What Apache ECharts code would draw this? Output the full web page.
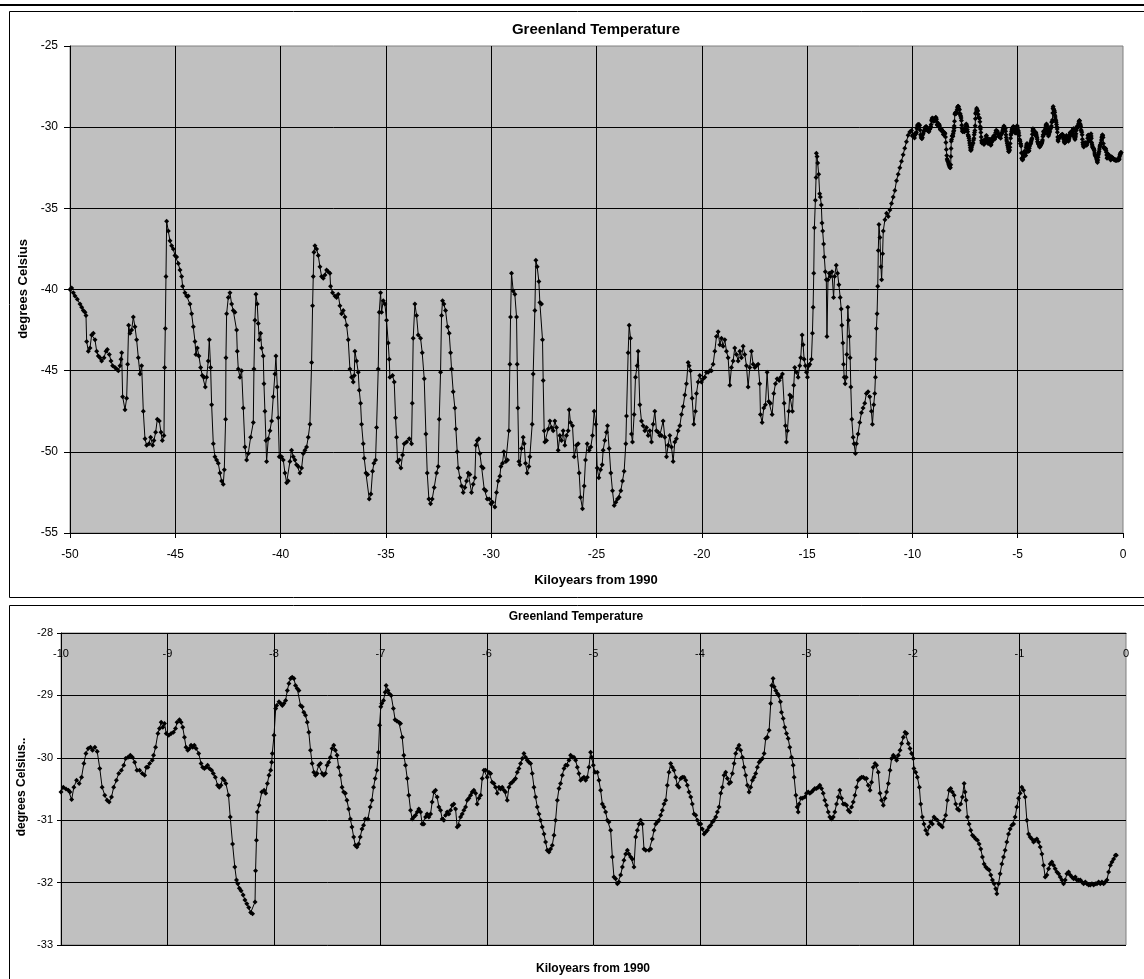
<!DOCTYPE html>
<html>
<head>
<meta charset="utf-8">
<script src="https://cdn.jsdelivr.net/npm/echarts@6/dist/echarts.min.js"></script>
<style>
html,body{margin:0;padding:0;background:#fff;}
#chart{width:1144px;height:979px;}
</style>
</head>
<body>
<div id="chart"></div>
<script>
// ---- Data (kiloyears from 1990, degrees Celsius) ----
const chartTitle = 'Greenland Temperature';
const xTitle = 'Kiloyears from 1990';
const yTitleTop = 'degrees Celsius';
const yTitleBottom = 'degrees Celsius..';

// Glacial record, -50 to -10 kyr
const glacialRecord = [
[-50.000,-40.0],[-49.921,-39.9],[-49.842,-40.2],[-49.763,-40.4],[-49.652,-40.6],[-49.525,-40.9],[-49.446,-41.1],[-49.367,-41.3],[-49.288,-41.4],[-49.241,-41.6],
[-49.209,-43.2],[-49.130,-43.8],[-49.051,-43.6],[-48.972,-42.8],[-48.892,-42.7],[-48.813,-43.1],[-48.734,-43.8],[-48.655,-44.1],[-48.576,-44.2],[-48.497,-44.4],
[-48.386,-44.2],[-48.291,-43.8],[-48.228,-43.7],[-48.133,-44.0],[-48.054,-44.4],[-47.975,-44.7],[-47.864,-44.8],[-47.785,-44.9],[-47.706,-45.0],[-47.627,-44.7],
[-47.579,-44.3],[-47.547,-43.9],[-47.500,-46.6],[-47.389,-47.4],[-47.310,-46.7],[-47.263,-44.6],[-47.215,-42.2],[-47.152,-42.7],[-47.073,-42.5],[-46.994,-41.7],
[-46.915,-42.3],[-46.835,-43.1],[-46.756,-44.2],[-46.677,-45.2],[-46.598,-44.7],[-46.519,-47.5],[-46.440,-49.2],[-46.361,-49.6],[-46.250,-49.5],[-46.171,-49.1],
[-46.076,-49.6],[-46.013,-49.3],[-45.934,-48.8],[-45.854,-48.0],[-45.759,-48.1],[-45.680,-48.8],[-45.617,-49.3],[-45.538,-49.0],[-45.506,-44.8],[-45.475,-42.4],
[-45.443,-39.2],[-45.411,-35.8],[-45.332,-36.4],[-45.253,-37.0],[-45.174,-37.3],[-45.095,-37.5],[-45.016,-37.9],[-44.937,-38.0],[-44.858,-38.4],[-44.778,-38.8],
[-44.699,-39.2],[-44.652,-39.8],[-44.541,-40.2],[-44.462,-40.4],[-44.383,-40.4],[-44.304,-40.9],[-44.225,-41.5],[-44.146,-42.3],[-44.066,-43.2],[-44.019,-44.0],
[-43.956,-43.6],[-43.877,-44.1],[-43.797,-44.8],[-43.718,-45.3],[-43.639,-45.4],[-43.576,-46.0],[-43.513,-45.4],[-43.434,-44.4],[-43.386,-43.1],[-43.323,-44.8],
[-43.275,-47.1],[-43.196,-49.5],[-43.117,-50.3],[-43.038,-50.5],[-42.959,-50.7],[-42.880,-51.3],[-42.801,-51.8],[-42.722,-52.0],[-42.674,-51.1],[-42.611,-48.0],
[-42.595,-44.2],[-42.563,-41.5],[-42.484,-40.5],[-42.405,-40.2],[-42.326,-40.9],[-42.247,-41.3],[-42.168,-41.4],[-42.089,-42.5],[-42.057,-43.8],[-42.009,-44.9],
[-41.930,-45.4],[-41.851,-45.0],[-41.772,-47.3],[-41.693,-49.7],[-41.614,-50.5],[-41.535,-50.1],[-41.424,-49.1],[-41.297,-48.2],[-41.266,-44.9],[-41.218,-41.9],
[-41.171,-40.3],[-41.108,-40.9],[-41.060,-42.1],[-41.013,-43.1],[-40.949,-42.7],[-40.902,-43.6],[-40.823,-44.1],[-40.791,-45.8],[-40.744,-47.5],[-40.696,-49.3],
[-40.665,-50.6],[-40.585,-49.2],[-40.506,-48.7],[-40.427,-48.1],[-40.348,-46.6],[-40.269,-45.2],[-40.222,-44.1],[-40.158,-46.0],[-40.111,-47.9],[-40.063,-50.3],
[-39.953,-50.3],[-39.873,-50.5],[-39.794,-51.3],[-39.715,-51.9],[-39.636,-51.8],[-39.557,-50.6],[-39.478,-49.9],[-39.399,-50.3],[-39.320,-50.5],[-39.241,-50.8],
[-39.161,-50.9],[-39.082,-51.3],[-39.003,-51.0],[-38.924,-50.1],[-38.845,-49.9],[-38.766,-49.7],[-38.687,-49.1],[-38.608,-48.3],[-38.528,-44.5],[-38.481,-41.0],
[-38.449,-39.2],[-38.418,-37.7],[-38.370,-37.3],[-38.291,-37.5],[-38.212,-37.9],[-38.133,-38.6],[-38.054,-39.2],[-37.975,-39.3],[-37.896,-39.1],[-37.816,-38.8],
[-37.737,-38.9],[-37.658,-39.0],[-37.627,-39.8],[-37.532,-40.2],[-37.421,-40.4],[-37.342,-40.5],[-37.263,-40.3],[-37.184,-41.0],[-37.104,-41.5],[-37.025,-41.3],
[-36.946,-41.7],[-36.867,-42.2],[-36.788,-43.1],[-36.709,-44.9],[-36.630,-45.4],[-36.551,-45.7],[-36.503,-45.3],[-36.472,-43.8],[-36.392,-44.4],[-36.313,-45.1],
[-36.266,-46.2],[-36.203,-47.0],[-36.155,-48.3],[-36.076,-49.5],[-36.028,-50.4],[-35.949,-51.3],[-35.870,-51.4],[-35.791,-52.9],[-35.712,-52.6],[-35.633,-51.2],
[-35.570,-50.7],[-35.491,-50.5],[-35.443,-48.5],[-35.364,-44.9],[-35.316,-41.4],[-35.253,-40.2],[-35.206,-41.4],[-35.127,-40.7],[-35.047,-40.9],[-34.968,-41.9],
[-34.889,-43.3],[-34.842,-44.3],[-34.810,-45.4],[-34.684,-45.3],[-34.604,-45.7],[-34.541,-47.9],[-34.494,-49.1],[-34.446,-50.6],[-34.367,-50.5],[-34.288,-51.0],
[-34.209,-50.2],[-34.130,-49.5],[-34.019,-49.4],[-33.892,-49.2],[-33.782,-49.5],[-33.750,-47.0],[-33.703,-43.0],[-33.623,-40.9],[-33.544,-41.6],[-33.465,-42.8],
[-33.354,-43.0],[-33.275,-43.9],[-33.180,-45.5],[-33.101,-48.9],[-33.038,-51.3],[-32.959,-52.9],[-32.880,-53.2],[-32.801,-52.9],[-32.706,-52.2],[-32.595,-51.3],
[-32.516,-50.9],[-32.468,-48.0],[-32.405,-45.1],[-32.358,-41.6],[-32.310,-40.7],[-32.247,-40.9],[-32.168,-41.3],[-32.073,-42.3],[-31.994,-42.7],[-31.930,-43.9],
[-31.883,-44.9],[-31.804,-46.3],[-31.725,-47.3],[-31.677,-48.6],[-31.614,-50.0],[-31.566,-51.0],[-31.487,-51.6],[-31.408,-52.1],[-31.329,-52.5],[-31.250,-52.2],
[-31.171,-51.8],[-31.092,-51.3],[-31.013,-51.4],[-30.934,-52.5],[-30.854,-52.0],[-30.775,-51.6],[-30.728,-49.6],[-30.665,-49.3],[-30.585,-49.2],[-30.538,-50.1],
[-30.459,-50.9],[-30.380,-51.0],[-30.332,-52.3],[-30.253,-52.4],[-30.190,-52.9],[-30.095,-52.9],[-30.016,-53.2],[-29.937,-53.1],[-29.826,-53.4],[-29.747,-52.5],
[-29.668,-51.8],[-29.589,-51.5],[-29.541,-50.9],[-29.462,-50.7],[-29.399,-50.0],[-29.304,-50.6],[-29.225,-50.5],[-29.162,-48.7],[-29.114,-44.6],[-29.082,-41.7],
[-29.035,-39.0],[-28.956,-40.1],[-28.877,-40.3],[-28.797,-41.7],[-28.766,-44.6],[-28.734,-47.3],[-28.687,-50.6],[-28.639,-50.8],[-28.560,-49.8],[-28.481,-49.1],
[-28.434,-49.5],[-28.370,-50.7],[-28.291,-51.3],[-28.212,-50.9],[-28.165,-50.3],[-28.054,-48.3],[-28.006,-45.2],[-27.927,-41.3],[-27.880,-38.2],[-27.816,-38.6],
[-27.737,-39.5],[-27.690,-40.8],[-27.611,-40.9],[-27.563,-43.1],[-27.532,-45.6],[-27.484,-48.7],[-27.453,-49.4],[-27.373,-49.3],[-27.294,-48.6],[-27.215,-48.1],
[-27.136,-48.5],[-27.057,-48.7],[-26.978,-48.1],[-26.899,-48.5],[-26.820,-49.9],[-26.741,-49.0],[-26.661,-49.3],[-26.582,-48.7],[-26.503,-49.6],[-26.424,-49.0],
[-26.345,-48.7],[-26.297,-47.4],[-26.234,-48.2],[-26.139,-48.4],[-26.060,-50.3],[-25.949,-49.6],[-25.870,-49.5],[-25.823,-51.3],[-25.759,-52.8],[-25.665,-53.5],
[-25.585,-52.1],[-25.522,-50.5],[-25.443,-49.5],[-25.348,-49.9],[-25.269,-49.7],[-25.190,-49.0],[-25.111,-47.5],[-25.032,-48.3],[-24.968,-51.0],[-24.889,-51.6],
[-24.810,-51.1],[-24.731,-50.8],[-24.684,-49.9],[-24.604,-49.3],[-24.525,-48.8],[-24.478,-48.4],[-24.399,-49.8],[-24.320,-51.3],[-24.241,-52.4],[-24.161,-53.3],
[-24.082,-53.1],[-24.003,-52.9],[-23.924,-52.8],[-23.845,-52.4],[-23.766,-51.8],[-23.687,-51.2],[-23.608,-49.5],[-23.576,-47.8],[-23.497,-43.9],[-23.449,-42.2],
[-23.386,-43.0],[-23.339,-48.9],[-23.291,-49.4],[-23.212,-47.7],[-23.149,-45.4],[-23.070,-44.7],[-23.022,-43.8],[-22.943,-47.1],[-22.864,-48.1],[-22.785,-48.4],
[-22.706,-48.7],[-22.627,-48.5],[-22.547,-49.0],[-22.468,-48.7],[-22.389,-49.4],[-22.310,-48.3],[-22.231,-47.5],[-22.152,-48.7],[-22.073,-48.8],[-21.994,-49.0],
[-21.915,-49.0],[-21.835,-48.1],[-21.756,-49.1],[-21.677,-50.3],[-21.598,-49.6],[-21.519,-49.0],[-21.440,-49.7],[-21.361,-50.6],[-21.282,-49.4],[-21.203,-49.2],
[-21.123,-48.7],[-21.044,-48.4],[-20.965,-47.7],[-20.886,-47.2],[-20.807,-46.5],[-20.728,-45.8],[-20.649,-44.5],[-20.601,-44.7],[-20.538,-45.0],[-20.459,-46.7],
[-20.380,-48.3],[-20.301,-47.5],[-20.253,-46.4],[-20.174,-45.7],[-20.095,-45.3],[-20.016,-45.7],[-19.937,-45.5],[-19.858,-45.4],[-19.778,-45.1],[-19.699,-45.1],
[-19.620,-45.0],[-19.541,-45.0],[-19.462,-44.6],[-19.383,-43.8],[-19.304,-42.9],[-19.225,-42.6],[-19.146,-43.4],[-19.066,-43.0],[-18.987,-43.5],[-18.908,-43.1],
[-18.829,-43.8],[-18.750,-44.2],[-18.671,-45.9],[-18.592,-44.8],[-18.513,-44.4],[-18.434,-43.6],[-18.354,-44.0],[-18.275,-44.4],[-18.196,-43.8],[-18.117,-44.2],
[-18.038,-43.5],[-17.959,-44.0],[-17.880,-44.7],[-17.801,-46.0],[-17.722,-44.8],[-17.642,-43.8],[-17.563,-44.6],[-17.484,-44.8],[-17.405,-44.7],[-17.326,-44.6],
[-17.247,-45.8],[-17.215,-47.7],[-17.136,-48.2],[-17.057,-47.3],[-16.978,-47.1],[-16.899,-45.1],[-16.820,-46.9],[-16.741,-47.0],[-16.661,-47.7],[-16.582,-46.4],
[-16.503,-45.8],[-16.424,-45.5],[-16.329,-45.6],[-16.250,-45.4],[-16.171,-45.2],[-16.092,-47.0],[-16.028,-48.4],[-15.981,-49.4],[-15.934,-48.7],[-15.870,-47.5],
[-15.823,-46.5],[-15.744,-46.6],[-15.696,-47.5],[-15.633,-45.9],[-15.585,-44.8],[-15.506,-45.1],[-15.427,-45.4],[-15.348,-44.7],[-15.301,-44.2],[-15.237,-42.8],
[-15.190,-43.4],[-15.142,-44.3],[-15.079,-44.7],[-15.032,-45.1],[-14.984,-45.4],[-14.921,-44.7],[-14.873,-44.6],[-14.794,-44.3],[-14.747,-42.7],[-14.715,-41.1],
[-14.684,-39.0],[-14.654,-36.2],[-14.607,-34.5],[-14.575,-33.1],[-14.560,-31.6],[-14.528,-31.8],[-14.497,-32.2],[-14.450,-32.9],[-14.403,-34.1],[-14.371,-34.3],
[-14.324,-34.8],[-14.292,-35.9],[-14.261,-36.4],[-14.214,-37.2],[-14.182,-38.0],[-14.135,-38.9],[-14.088,-39.4],[-14.057,-42.9],[-14.009,-39.4],[-13.947,-39.0],
[-13.899,-39.2],[-13.821,-38.9],[-13.742,-40.5],[-13.695,-39.2],[-13.616,-38.5],[-13.553,-39.0],[-13.491,-39.7],[-13.428,-40.5],[-13.381,-41.2],[-13.349,-42.2],
[-13.302,-43.3],[-13.270,-44.6],[-13.239,-45.4],[-13.192,-45.8],[-13.145,-45.4],[-13.113,-44.0],[-13.066,-41.1],[-13.035,-41.9],[-12.987,-42.9],[-12.956,-44.2],
[-12.925,-46.0],[-12.877,-48.0],[-12.816,-49.1],[-12.769,-49.5],[-12.706,-50.1],[-12.658,-49.5],[-12.579,-48.9],[-12.500,-48.2],[-12.421,-47.6],[-12.342,-47.3],
[-12.263,-47.0],[-12.184,-46.4],[-12.104,-46.3],[-12.025,-46.6],[-11.946,-47.5],[-11.899,-48.3],[-11.835,-47.1],[-11.788,-46.4],[-11.756,-45.4],[-11.741,-44.3],
[-11.709,-42.4],[-11.677,-41.5],[-11.645,-39.8],[-11.620,-37.6],[-11.588,-36.0],[-11.541,-36.8],[-11.494,-38.6],[-11.462,-39.4],[-11.415,-37.8],[-11.384,-36.4],
[-11.305,-35.7],[-11.226,-35.3],[-11.148,-35.5],[-11.069,-35.1],[-10.991,-34.7],[-10.912,-34.3],[-10.833,-33.9],[-10.755,-33.3],[-10.676,-32.9],[-10.597,-32.5],
[-10.519,-32.1],[-10.440,-31.7],[-10.362,-31.3],[-10.283,-30.9],[-10.204,-30.5],[-10.126,-30.3],[-10.047,-30.2]
];

// Holocene record, -10 to 0 kyr (shown in both panels)
const holoceneRecord = [
[-10.000,-30.55],[-9.978,-30.47],[-9.953,-30.50],[-9.931,-30.52],[-9.916,-30.55],[-9.900,-30.67],[-9.879,-30.47],[-9.854,-30.36],[-9.829,-30.41],[-9.807,-30.31],
[-9.785,-30.09],[-9.766,-29.93],[-9.745,-29.85],[-9.723,-29.83],[-9.704,-29.88],[-9.682,-29.83],[-9.660,-29.90],[-9.636,-30.17],[-9.614,-30.47],[-9.589,-30.60],
[-9.567,-30.68],[-9.548,-30.71],[-9.526,-30.63],[-9.505,-30.47],[-9.480,-30.36],[-9.458,-30.25],[-9.433,-30.20],[-9.411,-30.12],[-9.393,-30.01],[-9.371,-29.99],
[-9.349,-29.96],[-9.330,-29.99],[-9.308,-30.07],[-9.287,-30.20],[-9.262,-30.20],[-9.237,-30.25],[-9.215,-30.28],[-9.199,-30.15],[-9.184,-30.15],[-9.168,-30.09],
[-9.143,-30.04],[-9.131,-29.96],[-9.112,-29.83],[-9.090,-29.61],[-9.075,-29.53],[-9.059,-29.43],[-9.044,-29.51],[-9.028,-29.45],[-9.012,-29.61],[-8.988,-29.64],
[-8.966,-29.61],[-8.944,-29.59],[-8.925,-29.53],[-8.910,-29.43],[-8.888,-29.39],[-8.872,-29.43],[-8.857,-29.51],[-8.841,-29.67],[-8.826,-29.83],[-8.810,-29.88],
[-8.794,-29.85],[-8.779,-29.80],[-8.763,-29.83],[-8.748,-29.80],[-8.732,-29.85],[-8.707,-29.93],[-8.685,-30.09],[-8.670,-30.15],[-8.654,-30.17],[-8.639,-30.15],
[-8.623,-30.12],[-8.607,-30.17],[-8.586,-30.20],[-8.570,-30.25],[-8.551,-30.31],[-8.530,-30.44],[-8.514,-30.47],[-8.498,-30.44],[-8.483,-30.33],[-8.467,-30.36],
[-8.452,-30.41],[-8.427,-30.60],[-8.411,-30.95],[-8.389,-31.38],[-8.368,-31.75],[-8.352,-31.96],[-8.340,-32.02],[-8.325,-32.09],[-8.309,-32.13],[-8.290,-32.20],
[-8.273,-32.28],[-8.255,-32.34],[-8.237,-32.40],[-8.219,-32.48],[-8.201,-32.50],[-8.178,-32.31],[-8.173,-31.81],[-8.165,-31.32],[-8.156,-30.87],[-8.140,-30.76],
[-8.115,-30.55],[-8.093,-30.52],[-8.078,-30.57],[-8.062,-30.41],[-8.047,-30.28],[-8.031,-30.20],[-8.022,-30.07],[-8.016,-29.93],[-8.000,-29.64],[-7.984,-29.21],
[-7.975,-29.16],[-7.953,-29.10],[-7.938,-29.13],[-7.922,-29.16],[-7.907,-29.13],[-7.891,-29.08],[-7.875,-28.92],[-7.860,-28.81],[-7.844,-28.73],[-7.829,-28.71],
[-7.813,-28.73],[-7.798,-28.84],[-7.782,-28.89],[-7.766,-28.92],[-7.751,-29.16],[-7.735,-29.18],[-7.720,-29.27],[-7.704,-29.32],[-7.688,-29.43],[-7.673,-29.59],
[-7.657,-29.88],[-7.642,-30.09],[-7.626,-30.23],[-7.611,-30.28],[-7.595,-30.25],[-7.579,-30.12],[-7.564,-30.09],[-7.548,-30.25],[-7.533,-30.28],[-7.517,-30.25],
[-7.502,-30.12],[-7.486,-30.07],[-7.470,-29.99],[-7.455,-29.85],[-7.439,-29.80],[-7.424,-29.88],[-7.408,-29.96],[-7.393,-30.15],[-7.377,-30.28],[-7.361,-30.47],
[-7.346,-30.55],[-7.330,-30.57],[-7.315,-30.68],[-7.299,-30.82],[-7.283,-30.98],[-7.268,-31.11],[-7.252,-31.27],[-7.237,-31.40],[-7.221,-31.43],[-7.206,-31.38],
[-7.190,-31.27],[-7.174,-31.14],[-7.159,-31.08],[-7.143,-30.98],[-7.118,-30.98],[-7.097,-30.79],[-7.081,-30.68],[-7.065,-30.47],[-7.050,-30.33],[-7.034,-30.20],
[-7.019,-29.91],[-7.009,-29.48],[-6.997,-29.18],[-6.988,-29.13],[-6.972,-29.08],[-6.956,-28.95],[-6.947,-28.84],[-6.931,-28.92],[-6.919,-28.97],[-6.900,-29.00],
[-6.879,-29.21],[-6.863,-29.39],[-6.847,-29.41],[-6.828,-29.43],[-6.812,-29.45],[-6.796,-29.67],[-6.781,-29.96],[-6.765,-30.12],[-6.749,-30.33],[-6.734,-30.60],
[-6.718,-30.84],[-6.702,-30.98],[-6.687,-30.95],[-6.671,-30.92],[-6.655,-30.87],[-6.640,-30.82],[-6.624,-30.87],[-6.609,-31.06],[-6.593,-31.06],[-6.577,-30.95],
[-6.562,-30.90],[-6.546,-30.95],[-6.530,-30.90],[-6.515,-30.71],[-6.499,-30.55],[-6.483,-30.52],[-6.468,-30.63],[-6.452,-30.79],[-6.436,-30.84],[-6.421,-30.98],
[-6.405,-31.00],[-6.389,-30.92],[-6.374,-30.87],[-6.358,-30.90],[-6.342,-30.84],[-6.327,-30.76],[-6.311,-30.74],[-6.295,-30.82],[-6.280,-31.11],[-6.264,-31.08],
[-6.248,-30.95],[-6.233,-30.90],[-6.217,-30.84],[-6.201,-30.79],[-6.186,-30.68],[-6.170,-30.65],[-6.154,-30.60],[-6.139,-30.55],[-6.123,-30.52],[-6.107,-30.57],
[-6.092,-30.74],[-6.076,-30.65],[-6.060,-30.60],[-6.045,-30.33],[-6.029,-30.20],[-6.013,-30.20],[-5.998,-30.31],[-5.982,-30.23],[-5.966,-30.25],[-5.951,-30.39],
[-5.935,-30.41],[-5.920,-30.47],[-5.904,-30.57],[-5.888,-30.47],[-5.873,-30.50],[-5.857,-30.47],[-5.841,-30.52],[-5.826,-30.55],[-5.810,-30.68],[-5.794,-30.47],
[-5.779,-30.41],[-5.763,-30.39],[-5.747,-30.36],[-5.732,-30.33],[-5.716,-30.23],[-5.700,-30.17],[-5.685,-30.09],[-5.669,-30.01],[-5.653,-29.93],[-5.638,-29.99],
[-5.622,-30.04],[-5.606,-30.07],[-5.591,-30.09],[-5.575,-30.25],[-5.559,-30.47],[-5.544,-30.63],[-5.528,-30.79],[-5.512,-30.90],[-5.497,-31.00],[-5.481,-31.11],
[-5.465,-31.22],[-5.450,-31.35],[-5.434,-31.48],[-5.418,-31.51],[-5.403,-31.46],[-5.387,-31.40],[-5.371,-31.24],[-5.356,-31.00],[-5.340,-30.68],[-5.324,-30.49],
[-5.309,-30.41],[-5.293,-30.28],[-5.277,-30.17],[-5.262,-30.12],[-5.246,-30.12],[-5.230,-30.04],[-5.215,-29.96],[-5.199,-29.99],[-5.184,-29.99],[-5.168,-30.04],
[-5.152,-30.15],[-5.137,-30.25],[-5.121,-30.36],[-5.105,-30.33],[-5.090,-30.31],[-5.074,-30.36],[-5.058,-30.31],[-5.043,-30.15],[-5.027,-29.91],[-5.017,-29.99],
[-5.002,-30.12],[-4.986,-30.23],[-4.964,-30.23],[-4.949,-30.36],[-4.933,-30.52],[-4.917,-30.74],[-4.902,-30.79],[-4.886,-30.87],[-4.870,-31.00],[-4.855,-31.03],
[-4.839,-31.16],[-4.823,-31.59],[-4.808,-31.91],[-4.792,-31.94],[-4.776,-32.02],[-4.761,-31.99],[-4.745,-31.88],[-4.729,-31.75],[-4.714,-31.64],[-4.698,-31.54],
[-4.682,-31.48],[-4.667,-31.54],[-4.651,-31.59],[-4.635,-31.62],[-4.620,-31.75],[-4.604,-31.27],[-4.588,-31.16],[-4.573,-31.06],[-4.557,-31.00],[-4.541,-31.06],
[-4.526,-31.46],[-4.510,-31.48],[-4.479,-31.48],[-4.463,-31.46],[-4.448,-31.30],[-4.432,-31.16],[-4.416,-31.06],[-4.401,-31.03],[-4.385,-31.00],[-4.369,-30.92],
[-4.354,-30.84],[-4.338,-30.74],[-4.322,-30.68],[-4.307,-30.44],[-4.291,-30.23],[-4.275,-30.09],[-4.260,-30.15],[-4.244,-30.20],[-4.228,-30.31],[-4.213,-30.44],
[-4.197,-30.47],[-4.181,-30.33],[-4.166,-30.31],[-4.150,-30.31],[-4.134,-30.36],[-4.119,-30.44],[-4.103,-30.55],[-4.087,-30.63],[-4.072,-30.74],[-4.056,-30.90],
[-4.040,-30.92],[-4.025,-31.00],[-4.009,-31.06],[-3.993,-31.06],[-3.978,-31.14],[-3.962,-31.22],[-3.946,-31.19],[-3.931,-31.16],[-3.915,-31.11],[-3.899,-31.08],
[-3.884,-31.03],[-3.868,-31.00],[-3.852,-30.95],[-3.837,-30.87],[-3.821,-30.79],[-3.805,-30.57],[-3.790,-30.47],[-3.774,-30.28],[-3.759,-30.23],[-3.743,-30.33],
[-3.727,-30.41],[-3.712,-30.39],[-3.696,-30.25],[-3.680,-30.09],[-3.665,-29.93],[-3.649,-29.85],[-3.633,-29.80],[-3.618,-29.88],[-3.602,-29.99],[-3.586,-30.15],
[-3.571,-30.28],[-3.555,-30.44],[-3.539,-30.55],[-3.524,-30.47],[-3.508,-30.36],[-3.492,-30.31],[-3.477,-30.25],[-3.461,-30.15],[-3.445,-30.07],[-3.430,-30.04],
[-3.414,-30.01],[-3.398,-29.93],[-3.383,-29.69],[-3.367,-29.67],[-3.351,-29.56],[-3.336,-29.13],[-3.326,-28.84],[-3.314,-28.73],[-3.304,-28.86],[-3.289,-28.92],
[-3.273,-28.97],[-3.260,-29.00],[-3.245,-29.10],[-3.235,-29.27],[-3.219,-29.37],[-3.204,-29.51],[-3.188,-29.61],[-3.172,-29.69],[-3.157,-29.83],[-3.141,-29.99],
[-3.125,-30.12],[-3.116,-30.31],[-3.100,-30.60],[-3.088,-30.79],[-3.078,-30.87],[-3.069,-30.74],[-3.053,-30.65],[-3.038,-30.65],[-3.016,-30.63],[-3.000,-30.57],
[-2.984,-30.55],[-2.969,-30.57],[-2.953,-30.55],[-2.937,-30.52],[-2.922,-30.49],[-2.906,-30.49],[-2.890,-30.47],[-2.875,-30.44],[-2.859,-30.49],[-2.843,-30.57],
[-2.828,-30.68],[-2.812,-30.76],[-2.796,-30.87],[-2.781,-30.95],[-2.765,-30.98],[-2.749,-30.95],[-2.734,-30.87],[-2.718,-30.74],[-2.702,-30.63],[-2.687,-30.52],
[-2.671,-30.65],[-2.655,-30.74],[-2.639,-30.74],[-2.624,-30.76],[-2.608,-30.84],[-2.592,-30.87],[-2.577,-30.79],[-2.561,-30.71],[-2.545,-30.60],[-2.530,-30.47],
[-2.514,-30.36],[-2.498,-30.33],[-2.483,-30.31],[-2.467,-30.31],[-2.451,-30.33],[-2.436,-30.33],[-2.420,-30.44],[-2.404,-30.52],[-2.389,-30.39],[-2.373,-30.15],
[-2.357,-30.09],[-2.342,-30.12],[-2.326,-30.23],[-2.310,-30.57],[-2.295,-30.68],[-2.279,-30.76],[-2.263,-30.65],[-2.248,-30.55],[-2.232,-30.41],[-2.216,-30.20],
[-2.201,-30.01],[-2.185,-29.96],[-2.169,-29.99],[-2.154,-30.04],[-2.138,-29.96],[-2.122,-29.88],[-2.107,-29.77],[-2.091,-29.67],[-2.075,-29.59],[-2.060,-29.61],
[-2.044,-29.77],[-2.028,-29.85],[-2.013,-29.93],[-1.997,-30.01],[-1.991,-30.17],[-1.975,-30.23],[-1.959,-30.31],[-1.940,-30.47],[-1.928,-30.74],[-1.912,-30.95],
[-1.897,-31.06],[-1.881,-31.16],[-1.865,-31.22],[-1.850,-31.11],[-1.834,-31.03],[-1.818,-31.06],[-1.803,-30.95],[-1.787,-30.98],[-1.771,-31.00],[-1.755,-31.06],
[-1.740,-31.08],[-1.724,-31.11],[-1.708,-31.00],[-1.693,-30.92],[-1.677,-30.68],[-1.661,-30.52],[-1.646,-30.49],[-1.630,-30.55],[-1.614,-30.60],[-1.599,-30.74],
[-1.583,-30.82],[-1.567,-30.84],[-1.552,-30.74],[-1.536,-30.63],[-1.520,-30.41],[-1.511,-30.55],[-1.502,-30.68],[-1.489,-30.95],[-1.473,-31.06],[-1.458,-31.16],
[-1.442,-31.24],[-1.426,-31.27],[-1.411,-31.30],[-1.395,-31.32],[-1.379,-31.38],[-1.364,-31.46],[-1.348,-31.59],[-1.332,-31.70],[-1.317,-31.75],[-1.301,-31.78],
[-1.285,-31.80],[-1.270,-31.88],[-1.254,-31.96],[-1.238,-32.02],[-1.223,-32.10],[-1.213,-32.18],[-1.197,-32.02],[-1.182,-31.86],[-1.166,-31.70],[-1.150,-31.59],
[-1.135,-31.48],[-1.119,-31.35],[-1.103,-31.22],[-1.088,-31.14],[-1.072,-31.08],[-1.056,-31.06],[-1.041,-30.95],[-1.025,-30.79],[-1.009,-30.65],[-0.994,-30.57],
[-0.978,-30.47],[-0.962,-30.52],[-0.947,-30.63],[-0.931,-31.00],[-0.915,-31.22],[-0.900,-31.27],[-0.884,-31.30],[-0.868,-31.35],[-0.853,-31.32],[-0.837,-31.30],
[-0.821,-31.35],[-0.806,-31.43],[-0.790,-31.54],[-0.774,-31.72],[-0.759,-31.91],[-0.743,-31.88],[-0.727,-31.78],[-0.712,-31.70],[-0.696,-31.67],[-0.680,-31.72],
[-0.665,-31.78],[-0.649,-31.83],[-0.633,-31.86],[-0.618,-31.91],[-0.602,-31.96],[-0.586,-32.02],[-0.571,-31.96],[-0.555,-31.86],[-0.539,-31.83],[-0.524,-31.88],
[-0.508,-31.91],[-0.492,-31.94],[-0.476,-31.91],[-0.461,-31.96],[-0.445,-31.96],[-0.429,-31.96],[-0.414,-31.99],[-0.398,-32.02],[-0.382,-31.99],[-0.367,-32.02],
[-0.351,-32.04],[-0.335,-32.04],[-0.320,-32.02],[-0.304,-32.04],[-0.288,-32.02],[-0.273,-32.02],[-0.257,-31.99],[-0.241,-32.02],[-0.226,-31.99],[-0.210,-32.02],
[-0.194,-31.99],[-0.179,-31.96],[-0.163,-31.83],[-0.147,-31.72],[-0.132,-31.67],[-0.116,-31.62],[-0.100,-31.56],[-0.091,-31.56]
];

// Axis ranges / ticks
const topX = {min: -50, max: 0, interval: 5};
const topY = {min: -55, max: -25, interval: 5};
const botX = {min: -10, max: 0, interval: 1};
const botY = {min: -33, max: -28, interval: 1};

const FONT = '"Liberation Sans", Arial, Helvetica, sans-serif';
const chart = echarts.init(document.getElementById('chart'), null, {renderer: 'canvas'});

const blackLine = {color: '#000', width: 1};
function valueAxis(extra) {
  return Object.assign({
    type: 'value',
    axisLine: {show: true, onZero: false, lineStyle: blackLine},
    axisTick: {show: true, inside: false, lineStyle: blackLine},
    axisLabel: {color: '#000', fontFamily: FONT},
    splitLine: {show: true, lineStyle: blackLine},
    splitArea: {show: false}
  }, extra);
}

const option = {
  animation: false,
  backgroundColor: '#fff',
  grid: [
    {left: 70, top: 46, width: 1053, height: 487, show: true, backgroundColor: '#C0C0C0', borderColor: '#808080', borderWidth: 1, containLabel: false, outerBoundsMode: 'none'},
    {left: 61, top: 633, width: 1065, height: 312, show: true, backgroundColor: '#C0C0C0', borderColor: '#808080', borderWidth: 1, containLabel: false, outerBoundsMode: 'none'}
  ],
  xAxis: [
    valueAxis({gridIndex: 0, position: 'bottom', min: topX.min, max: topX.max, interval: topX.interval,
      axisTick: {show: true, length: 5, lineStyle: blackLine},
      axisLabel: {color: '#000', fontFamily: FONT, fontSize: 12, margin: 16},
      splitLine: {show: true, lineStyle: blackLine, showMinLine: false, showMaxLine: false}}),
    valueAxis({gridIndex: 1, position: 'top', min: botX.min, max: botX.max, interval: botX.interval,
      axisTick: {show: false},
      axisLabel: {color: '#000', fontFamily: FONT, fontSize: 11, inside: true, margin: 15},
      splitLine: {show: true, lineStyle: blackLine, showMinLine: false, showMaxLine: false}})
  ],
  yAxis: [
    valueAxis({gridIndex: 0, min: topY.min, max: topY.max, interval: topY.interval,
      axisTick: {show: true, length: 6, lineStyle: blackLine},
      axisLabel: {color: '#000', fontFamily: FONT, fontSize: 12, margin: 12},
      splitLine: {show: true, lineStyle: blackLine, showMinLine: false, showMaxLine: false}}),
    valueAxis({gridIndex: 1, min: botY.min, max: botY.max, interval: botY.interval,
      axisTick: {show: true, length: 4, lineStyle: blackLine},
      axisLabel: {color: '#000', fontFamily: FONT, fontSize: 11, margin: 8},
      splitLine: {show: true, lineStyle: blackLine, showMinLine: true, showMaxLine: false}})
  ],
  series: [
    {type: 'line', xAxisIndex: 0, yAxisIndex: 0, data: glacialRecord.concat(holoceneRecord),
      symbol: 'diamond', symbolSize: 5, showSymbol: true, silent: true,
      itemStyle: {color: '#000'}, lineStyle: {color: '#000', width: 1}},
    {type: 'line', xAxisIndex: 1, yAxisIndex: 1, data: holoceneRecord,
      symbol: 'diamond', symbolSize: 5, showSymbol: true, silent: true,
      itemStyle: {color: '#000'}, lineStyle: {color: '#000', width: 1}}
  ],
  graphic: [
    {type: 'line', shape: {x1: 0, y1: 5, x2: 1144, y2: 5}, style: {stroke: '#000', lineWidth: 2}, silent: true},
    {type: 'rect', shape: {x: 9.5, y: 11.5, width: 1200, height: 586}, style: {fill: 'none', stroke: '#000', lineWidth: 1}, silent: true},
    {type: 'rect', shape: {x: 9.5, y: 605.5, width: 1200, height: 500}, style: {fill: 'none', stroke: '#000', lineWidth: 1}, silent: true},
    {type: 'text', x: 596, y: 30, style: {text: chartTitle, font: 'bold 15px ' + FONT, fill: '#000', align: 'center', verticalAlign: 'middle'}, silent: true},
    {type: 'text', x: 596, y: 580, style: {text: xTitle, font: 'bold 13px ' + FONT, fill: '#000', align: 'center', verticalAlign: 'middle'}, silent: true},
    {type: 'text', x: 23, y: 289, rotation: Math.PI / 2, style: {text: yTitleTop, font: 'bold 13px ' + FONT, fill: '#000', align: 'center', verticalAlign: 'middle'}, silent: true},
    {type: 'text', x: 576, y: 617, style: {text: chartTitle, font: 'bold 12px ' + FONT, fill: '#000', align: 'center', verticalAlign: 'middle'}, silent: true},
    {type: 'text', x: 593, y: 969, style: {text: xTitle, font: 'bold 12px ' + FONT, fill: '#000', align: 'center', verticalAlign: 'middle'}, silent: true},
    {type: 'text', x: 22, y: 787, rotation: Math.PI / 2, style: {text: yTitleBottom, font: 'bold 12px ' + FONT, fill: '#000', align: 'center', verticalAlign: 'middle'}, silent: true}
  ]
};
chart.setOption(option);
</script>
</body>
</html>
